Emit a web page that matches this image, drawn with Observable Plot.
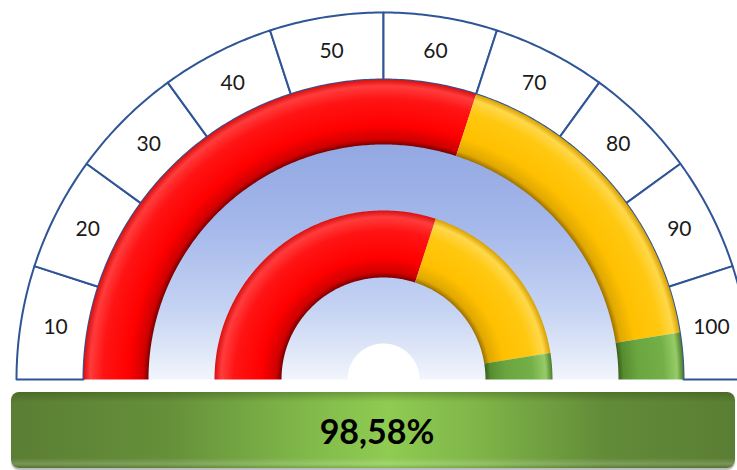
<!DOCTYPE html>
<html><head><meta charset="utf-8">
<script src="https://cdn.jsdelivr.net/npm/d3@7"></script>
<script src="https://cdn.jsdelivr.net/npm/@observablehq/plot@0.6"></script>
<style>
html,body{margin:0;padding:0;overflow:hidden;background:#fff;width:737px;height:470px}
#bar{position:absolute;left:11px;top:392px;width:724px;height:76px;border-radius:8px;
 box-shadow:0 2px 1px rgba(120,120,120,0.5);
 background:
  linear-gradient(180deg, rgba(30,50,10,0.28) 0px, rgba(30,50,10,0.0) 10px, rgba(0,0,0,0) 66px, rgba(255,255,255,0.18) 72px, rgba(0,0,0,0.1) 76px),
  linear-gradient(90deg,#5a7e33 0%,#66903a 22%,#82bb4b 42%,#8fcc52 52%,#80b649 64%,#628b38 82%,#5a7e33 100%);
 display:flex;align-items:center;justify-content:center;
 font-family:Lato,"Open Sans",sans-serif;font-weight:bold;font-size:34px;color:#000;box-sizing:border-box;padding-left:8px}
</style>
</head><body><div id="chart"></div><div id="bar"></div>
<script>
// ---- data ----
const scaleTicks = [10, 20, 30, 40, 50, 60, 70, 80, 90, 100];
const bandNames = ["red", "yellow", "green"];
const bandStarts = [0, 60, 95];
const bandEnds = [60, 95, 100];
const gaugeValue = 98.58;
const valueLabel = "98,58%";

// ---- layout ----
const W = 737, H = 388;
const R_SCALE_OUT = 367, R_SCALE_IN = 300;
const R_OUT_OUT = 300, R_OUT_IN = 235;
const R_IN_OUT = 169, R_IN_IN = 102;
const R_HUB = 36, R_LABEL = 332;

const angle = v => Math.PI * (1 - v / 100);
function sector(v0, v1, r0, r1, key) {
  const n = Math.max(4, Math.ceil((v1 - v0) * 3));
  const pts = [];
  for (let i = 0; i <= n; i++) { const a = angle(v0 + (v1 - v0) * i / n); pts.push({x: r1 * Math.cos(a), y: r1 * Math.sin(a), key}); }
  for (let i = n; i >= 0; i--) { const a = angle(v0 + (v1 - v0) * i / n); pts.push({x: r0 * Math.cos(a), y: r0 * Math.sin(a), key}); }
  pts.push({...pts[0]});
  return pts;
}

const scaleSegs = scaleTicks.flatMap(t => sector(t - 10, t, R_SCALE_IN, R_SCALE_OUT, "s" + t));
const background = sector(0, 100, 0, R_OUT_IN + 1, "bg");
const hub = sector(0, 100, 0, R_HUB, "hub");

const bandMarks = [];
[["o", R_OUT_IN, R_OUT_OUT], ["i", R_IN_IN, R_IN_OUT]].forEach(([ring, r0, r1]) => {
  bandNames.forEach((name, i) => {
    bandMarks.push(Plot.line(sector(bandStarts[i], bandEnds[i], r0, r1, name + ring),
      {x: "x", y: "y", z: "key", fill: `url(#g-${name}-${ring})`, stroke: "none"}));
  });
});

const plot = Plot.plot({
  width: W, height: H,
  margin: 0,
  x: {domain: [-383, 354], axis: null},
  y: {domain: [-9, 379], axis: null},
  style: {fontFamily: "Lato, 'Open Sans', sans-serif", background: "white", overflow: "hidden"},
  marks: [
    Plot.line(scaleSegs, {x: "x", y: "y", z: "key", fill: "white", stroke: "#2f5597", strokeWidth: 2}),
    Plot.line(background, {x: "x", y: "y", fill: "url(#g-bg)", stroke: "none"}),
    ...bandMarks,
    Plot.line(hub, {x: "x", y: "y", fill: "white", stroke: "none"}),
    Plot.text(scaleTicks, {
      x: t => R_LABEL * Math.cos(angle(t - 5)),
      y: t => R_LABEL * Math.sin(angle(t - 5)),
      text: t => String(t), fontSize: 21, fill: "#1a1a1a"
    })
  ]
});

// gradients in pixel space
const cx = plot.scale("x").apply(0), cy = plot.scale("y").apply(0);
const svg = d3.select(plot);
const defs = svg.insert("defs", ":first-child");
const bg = defs.append("linearGradient").attr("id", "g-bg").attr("gradientUnits", "userSpaceOnUse")
  .attr("x1", 0).attr("x2", 0).attr("y1", cy - R_OUT_IN).attr("y2", cy);
[[0, "#93a8e2"], [0.35, "#a5b8eb"], [0.7, "#c5d3f3"], [0.9, "#e2e9f8"], [1, "#f2f5fc"]]
  .forEach(([o, c]) => bg.append("stop").attr("offset", o).attr("stop-color", c));

const palettes = {
  red:    ["#7a0000", "#d00000", "#ff0000", "#ff1414", "#ff3c3c", "#d81010"],
  yellow: ["#9c7000", "#e0a800", "#ffc000", "#ffc810", "#ffd84a", "#d8a000"],
  green:  ["#3a601e", "#578c30", "#6aa540", "#74b047", "#96cc68", "#4d7c2a"]
};
[["o", R_OUT_IN, R_OUT_OUT], ["i", R_IN_IN, R_IN_OUT]].forEach(([ring, r0, r1]) => {
  const f = r0 / r1, span = 1 - f;
  bandNames.forEach(name => {
    const p = palettes[name];
    const g = defs.append("radialGradient").attr("id", `g-${name}-${ring}`).attr("gradientUnits", "userSpaceOnUse")
      .attr("cx", cx).attr("cy", cy).attr("r", r1);
    [[f, p[0]], [f + span * 0.08, p[1]], [f + span * 0.3, p[2]], [f + span * 0.7, p[3]], [f + span * 0.9, p[4]], [1, p[5]]]
      .forEach(([o, c]) => g.append("stop").attr("offset", o).attr("stop-color", c));
  });
});

document.getElementById("chart").append(plot);
document.getElementById("bar").textContent = valueLabel;
</script>
</body></html>
